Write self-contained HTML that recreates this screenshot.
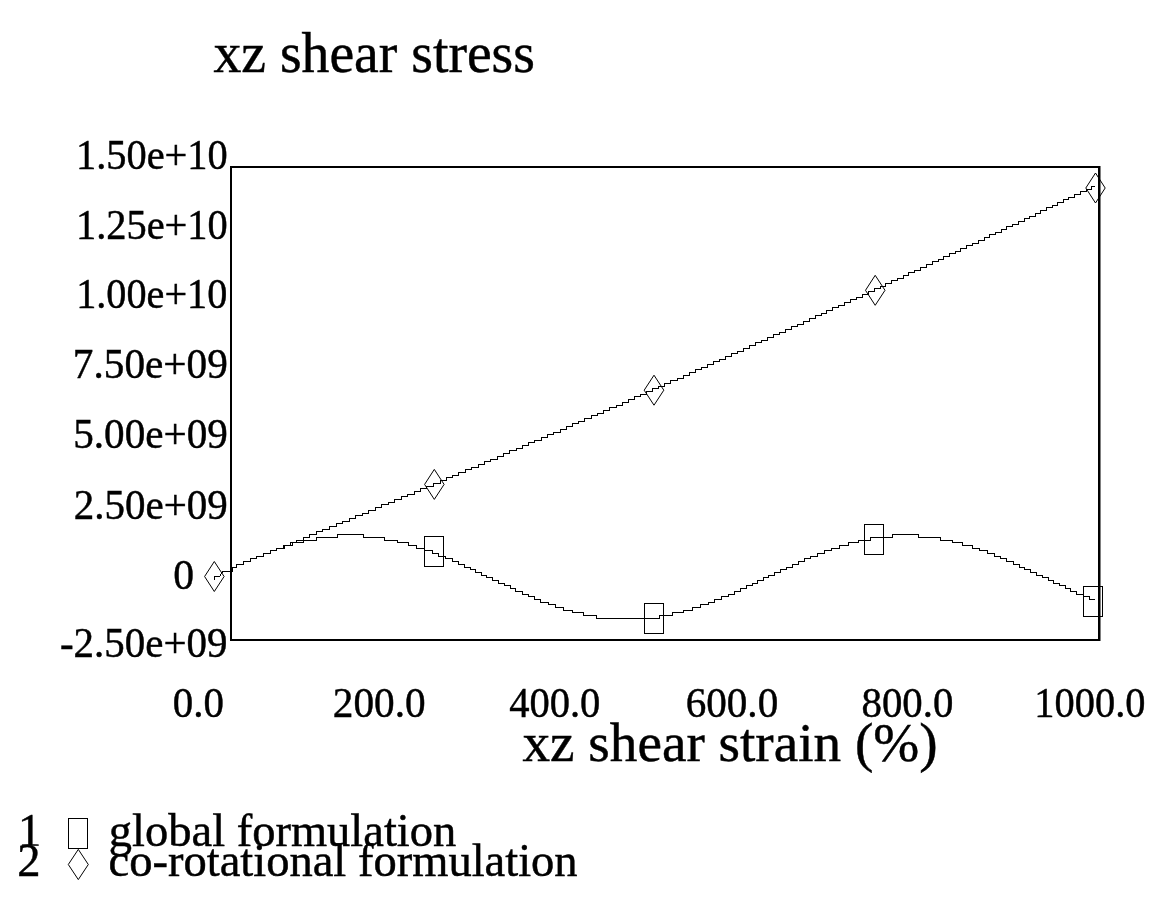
<!DOCTYPE html>
<html><head><meta charset="utf-8"><style>
html,body{margin:0;padding:0;background:#fff;}
svg{display:block;filter:grayscale(100%);}
text{font-family:"Liberation Serif",serif;fill:#000;stroke:#000;stroke-width:0.45px;}
</style></head><body>
<svg width="1153" height="899" viewBox="0 0 1153 899">
<defs><clipPath id="c1"><rect x="0" y="800" width="60" height="45.8"/></clipPath></defs>
<rect width="1153" height="899" fill="#fff"/>
<g><text transform="translate(213.44,71.80) scale(0.9941,1)" font-size="56">xz shear stress</text></g>
<g><text transform="translate(75.96,168.70) scale(0.9785,1)" font-size="41.3">1.50e+10</text></g>
<g><text transform="translate(75.96,239.00) scale(0.9785,1)" font-size="41.3">1.25e+10</text></g>
<g><text transform="translate(76.18,308.20) scale(0.9739,1)" font-size="41.3">1.00e+10</text></g>
<g><text transform="translate(72.82,378.00) scale(0.9990,1)" font-size="41.3">7.50e+09</text></g>
<g><text transform="translate(73.23,447.50) scale(0.9963,1)" font-size="41.3">5.00e+09</text></g>
<g><text transform="translate(73.75,518.50) scale(0.9929,1)" font-size="41.3">2.50e+09</text></g>
<g><text transform="translate(173.14,589.20) scale(0.9800,1)" font-size="42.5">0</text></g>
<g><text transform="translate(59.96,657.00) scale(0.9915,1)" font-size="41.3">-2.50e+09</text></g>
<g><text transform="translate(172.76,716.50) scale(0.9747,1)" font-size="42">0.0</text></g>
<g><text transform="translate(332.84,716.50) scale(0.9831,1)" font-size="42">200.0</text></g>
<g><text transform="translate(509.19,716.50) scale(0.9654,1)" font-size="42">400.0</text></g>
<g><text transform="translate(685.65,716.50) scale(0.9798,1)" font-size="42">600.0</text></g>
<g><text transform="translate(861.47,716.50) scale(0.9721,1)" font-size="42">800.0</text></g>
<g><text transform="translate(1034.36,716.50) scale(0.9624,1)" font-size="42">1000.0</text></g>
<g><text transform="translate(522.45,760.80) scale(0.9998,1)" font-size="55.2">xz shear strain (%)</text></g>
<g clip-path="url(#c1)"><text transform="translate(17.93,846.00) scale(1.0000,1)" font-size="46.5">1</text></g>
<g><text transform="translate(17.31,875.50) scale(1.0000,1)" font-size="46.5">2</text></g>
<g><text transform="translate(108.82,846.00) scale(1.0001,1)" font-size="46.5">global formulation</text></g>
<g><text transform="translate(108.55,875.50) scale(1.0009,1)" font-size="46.5">co-rotational formulation</text></g>
<path d="M230,166H1100.5V641H230Z" fill="#000"/><rect x="232" y="168" width="866" height="471" fill="#fff"/>
<g fill="none" stroke="#000" stroke-width="1" shape-rendering="crispEdges">
<path d="M214.5,579.5V576.5H219.5L222,572.5V571.5H232L232,567.5H236.5V564.5H243.5V561.5H250.5V558.5H256.5V556.5H263.5V553.5H270.5V550.5H276.5V548.5H283.5V545.5H290.5V542.5H296.5V540.5H303.5V537.5H309.5V534.5H316.5V531.5H322.5V529.5H329.5V526.5H336.5V523.5H342.5V521.5H349.5V518.5H355.5V515.5H362.5V513.5H368.5V510.5H375.5V507.5H381.5V504.5H388.5V502.5H394.5V499.5H401.5V496.5H407.5V494.5H414.5V491.5H420.5V488.5H426.5V486.5H433.5V483.5H440.5V480.5H446.5V477.5H452.5V475.5H458.5V472.5H465.5V469.5H471.5V467.5H478.5V464.5H484.5V461.5H490.5V459.5H497.5V456.5H503.5V453.5H509.5V450.5H516.5V448.5H522.5V445.5H528.5V442.5H534.5V440.5H541.5V437.5H547.5V434.5H553.5V432.5H560.5V429.5H566.5V426.5H572.5V423.5H578.5V421.5H584.5V418.5H591.5V415.5H597.5V413.5H603.5V410.5H609.5V407.5H616.5V405.5H622.5V402.5H628.5V399.5H634.5V396.5H640.5V394.5H646.5V391.5H652.5V388.5H658.5V386.5H664.5V383.5H670.5V380.5H677.5V378.5H683.5V375.5H689.5V372.5H695.5V369.5H701.5V367.5H707.5V364.5H713.5V361.5H719.5V359.5H725.5V356.5H731.5V353.5H737.5V351.5H743.5V348.5H749.5V345.5H755.5V342.5H761.5V340.5H767.5V337.5H773.5V334.5H779.5V332.5H785.5V329.5H791.5V326.5H797.5V324.5H803.5V321.5H809.5V318.5H815.5V315.5H821.5V313.5H826.5V310.5H832.5V307.5H838.5V305.5H844.5V302.5H850.5V299.5H856.5V297.5H862.5V294.5H868.5V291.5H874.5V288.5H880.5V286.5H885.5V283.5H891.5V280.5H897.5V278.5H903.5V275.5H908.5V272.5H914.5V270.5H920.5V267.5H926.5V264.5H932.5V261.5H938.5V259.5H943.5V256.5H949.5V253.5H955.5V251.5H960.5V248.5H966.5V245.5H972.5V243.5H978.5V240.5H984.5V237.5H989.5V234.5H995.5V232.5H1001.5V229.5H1006.5V226.5H1012.5V224.5H1018.5V221.5H1024.5V218.5H1029.5V216.5H1035.5V213.5H1040.5V210.5H1046.5V207.5H1052.5V205.5H1057.5V202.5H1063.5V199.5H1068.5V197.5H1074.5V194.5H1080.5V191.5H1086.5V189.5H1091.5V186.5H1095.3"/>
<path d="M232,567.5H236.5V564.5H243.5V561.5H250.5V558.5H256.5V556.5H263.5V553.5H270.5V550.5H276.5V548.5H284.5V545.5H292.5V542.5H303.5V540.5H316.5V537.5H337.5V534.5H363.5V537.5H384.5V540.5H397.5V542.5H408.5V545.5H416.5V548.5H424.5V550.5H432.5V553.5H438.5V556.5H445.5V558.5H452.5V561.5H458.5V564.5H464.5V567.5H470.5V569.5H475.5V572.5H481.5V575.5H486.5V577.5H492.5V580.5H498.5V583.5H504.5V585.5H510.5V588.5H515.5V591.5H522.5V594.5H528.5V596.5H534.5V599.5H540.5V602.5H548.5V604.5H555.5V607.5H563.5V610.5H572.5V612.5H583.5V615.5H596.5V618.5H659.5V615.5H672.5V612.5H683.5V610.5H692.5V607.5H700.5V604.5H708.5V602.5H714.5V599.5H721.5V596.5H728.5V594.5H734.5V591.5H740.5V588.5H746.5V585.5H752.5V583.5H757.5V580.5H763.5V577.5H768.5V575.5H774.5V572.5H780.5V569.5H786.5V567.5H792.5V564.5H798.5V561.5H804.5V558.5H810.5V556.5H817.5V553.5H824.5V550.5H831.5V548.5H839.5V545.5H848.5V542.5H858.5V540.5H870.5V537.5H892.5V534.5H918.5V537.5H940.5V540.5H952.5V542.5H962.5V545.5H972.5V548.5H979.5V550.5H987.5V553.5H994.5V556.5H1000.5V558.5H1006.5V561.5H1013.5V564.5H1019.5V567.5H1024.5V569.5H1030.5V572.5H1036.5V575.5H1042.5V577.5H1048.5V580.5H1053.5V583.5H1059.5V585.5H1065.5V588.5H1070.5V591.5H1076.5V594.5H1083.5V596.5H1089.5V599.5H1095.3"/>
</g>
<g fill="none" stroke="#000" stroke-width="1">
<path d="M214.3,561.5L224.1,576.5L214.3,591.5L204.6,576.5Z"/>
<path d="M434.3,469.4L444.1,484.4L434.3,499.4L424.6,484.4Z"/>
<path d="M654.0,375.2L663.8,390.2L654.0,405.2L644.2,390.2Z"/>
<path d="M875.2,275.3L885.0,290.3L875.2,305.3L865.5,290.3Z"/>
<path d="M1095.5,173.0L1105.2,188.0L1095.5,203.0L1085.8,188.0Z"/>
<rect x="424.5" y="536.5" width="19" height="30"/>
<rect x="644.5" y="603.5" width="19" height="30"/>
<rect x="864.5" y="524.5" width="19" height="30"/>
<rect x="1083.5" y="586.5" width="19" height="30"/>
</g>
<g fill="none" stroke="#000" stroke-width="1">
<rect x="68.5" y="818.5" width="19" height="30"/>
<path d="M78.3,849.4L88.3,864.5L78.3,879.6L68.3,864.5Z"/>
</g>
</svg>
</body></html>
